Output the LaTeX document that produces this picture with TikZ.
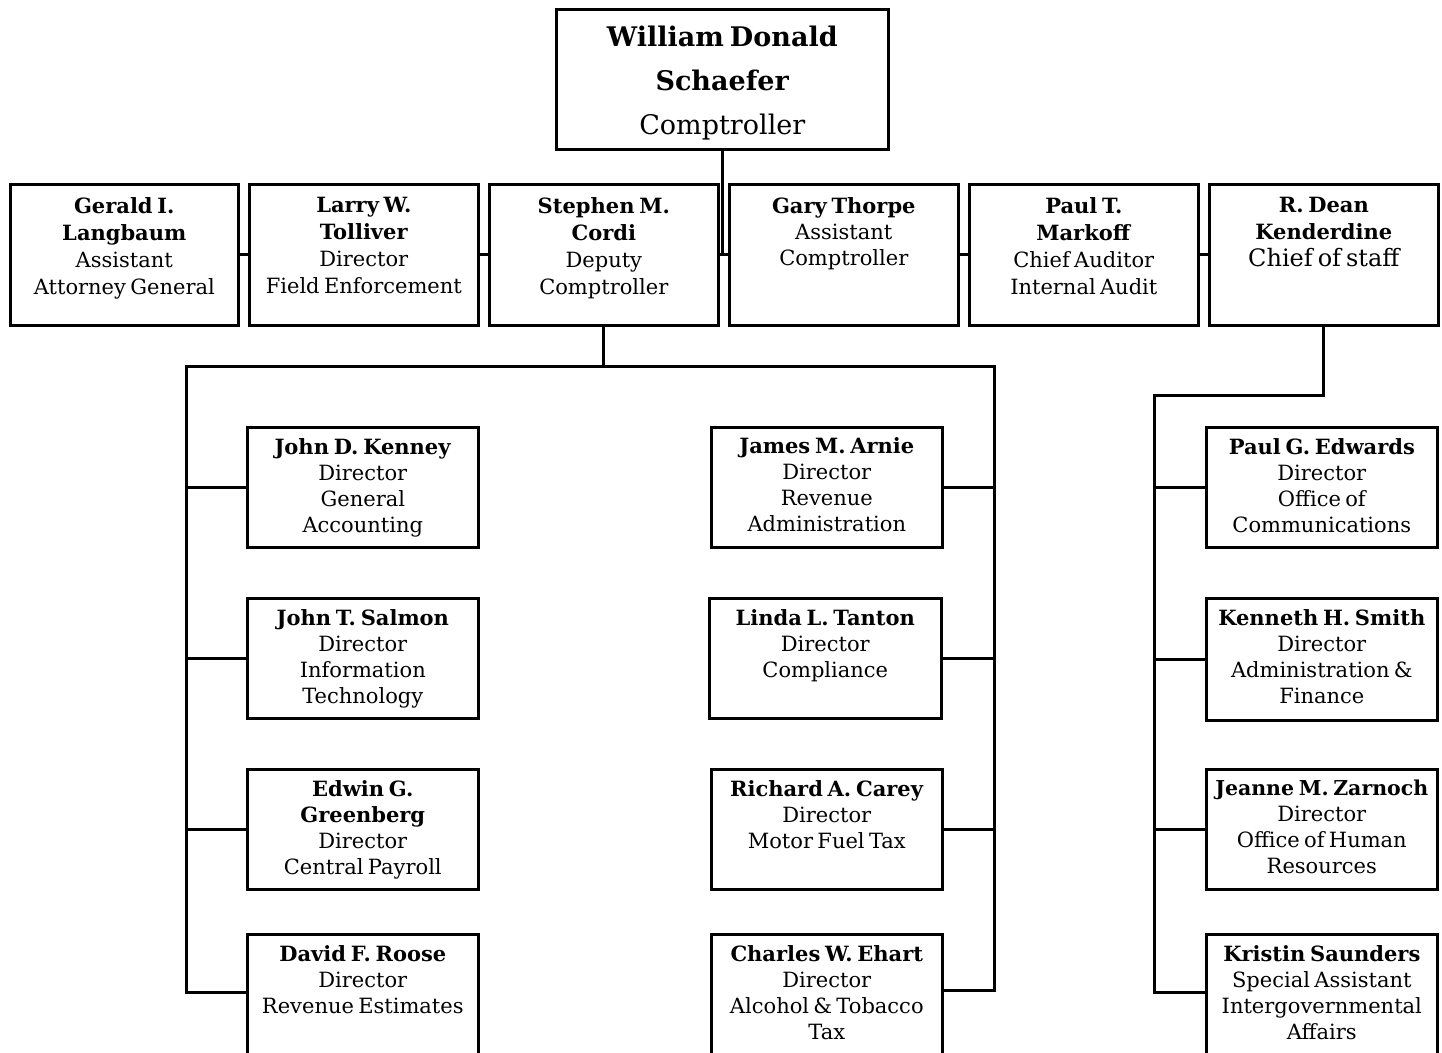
\documentclass[tikz,border=0pt]{standalone}
\usepackage{fontspec}
\setmainfont{DejaVu Serif}[WordSpace=0.65]
\newcommand{\otext}[4]{\parbox[c][#2][t]{#1}{\centering\vspace*{#3}#4\par}}
\tikzset{
  obox/.style={draw, line width=2.6pt, inner sep=0pt, anchor=north west, fill=white,
    font=\fontsize{21}{26}\selectfont},
  conn/.style={line width=3pt, line cap=rect},
}
\begin{document}
\begin{tikzpicture}[x=1pt,y=-1pt]
\useasboundingbox (0,0) rectangle (1442,1052);
\clip (0,0) rectangle (1442,1052);
\fill[white] (0,0) rectangle (1442,1052);

\coordinate (lb) at (186,366);
\coordinate (rb) at (994,366);
\coordinate (kb) at (1154,395);

% top box
\node[obox, font=\fontsize{27}{44}\selectfont] (ceo) at (555,8)
  {\otext{332pt}{140pt}{17pt}{\textbf{William Donald}\\\textbf{Schaefer}\\Comptroller}};

% second row
\node[obox, font=\fontsize{21}{27}\selectfont] (gerald) at (9,183)
  {\otext{228pt}{141pt}{13pt}{\textbf{Gerald I.}\\\textbf{Langbaum}\\Assistant\\Attorney General}};
\node[obox, font=\fontsize{21}{27}\selectfont] (tolliver) at (248,183)
  {\otext{229pt}{141pt}{13pt}{\textbf{Larry W.}\\\textbf{Tolliver}\\Director\\Field Enforcement}};
\node[obox, font=\fontsize{21}{27}\selectfont] (cordi) at (488,183)
  {\otext{229pt}{141pt}{13pt}{\textbf{Stephen M.}\\\textbf{Cordi}\\Deputy\\Comptroller}};
\node[obox, font=\fontsize{21}{26}\selectfont] (thorpe) at (728,183)
  {\otext{229pt}{141pt}{13pt}{\textbf{Gary Thorpe}\\Assistant\\Comptroller}};
\node[obox, font=\fontsize{21}{27}\selectfont] (markoff) at (968,183)
  {\otext{229pt}{141pt}{13pt}{\textbf{Paul T.}\\\textbf{Markoff}\\Chief Auditor\\Internal Audit}};
\node[obox, font=\fontsize{21}{27}\selectfont] (kenderdine) at (1208,183)
  {\otext{229pt}{141pt}{13pt}{\textbf{R. Dean}\\\textbf{Kenderdine}\\{\fontsize{24}{27}\selectfont Chief of staff}}};

% left column
\node[obox] (kenney) at (246,426)
  {\otext{231pt}{120pt}{11pt}{\textbf{John D. Kenney}\\Director\\General\\Accounting}};
\node[obox] (salmon) at (246,597)
  {\otext{231pt}{120pt}{11pt}{\textbf{John T. Salmon}\\Director\\Information\\Technology}};
\node[obox] (greenberg) at (246,768)
  {\otext{231pt}{120pt}{11pt}{\textbf{Edwin G.}\\\textbf{Greenberg}\\Director\\Central Payroll}};
\node[obox] (roose) at (246,933)
  {\otext{231pt}{140pt}{11pt}{\textbf{David F. Roose}\\Director\\Revenue Estimates}};

% middle column
\node[obox] (arnie) at (710,426)
  {\otext{231pt}{120pt}{10pt}{\textbf{James M. Arnie}\\Director\\Revenue\\Administration}};
\node[obox] (tanton) at (708,597)
  {\otext{232pt}{120pt}{11pt}{\textbf{Linda L. Tanton}\\Director\\Compliance}};
\node[obox] (carey) at (710,768)
  {\otext{231pt}{120pt}{11pt}{\textbf{Richard A. Carey}\\Director\\Motor Fuel Tax}};
\node[obox] (ehart) at (710,933)
  {\otext{231pt}{140pt}{11pt}{\textbf{Charles W. Ehart}\\Director\\Alcohol \& Tobacco\\Tax}};

% right column
\node[obox] (edwards) at (1205,426)
  {\otext{231pt}{120pt}{11pt}{\textbf{Paul G. Edwards}\\Director\\Office of\\Communications}};
\node[obox] (smith) at (1205,597)
  {\otext{231pt}{122pt}{11pt}{\textbf{Kenneth H. Smith}\\Director\\Administration \&\\Finance}};
\node[obox] (zarnoch) at (1205,768)
  {\otext{231pt}{120pt}{11pt}{{\fontsize{20.5}{26}\selectfont\textbf{Jeanne M. Zarnoch}}\\Director\\Office of Human\\Resources}};
\node[obox] (saunders) at (1205,933)
  {\otext{231pt}{140pt}{11pt}{\textbf{Kristin Saunders}\\Special Assistant\\Intergovernmental\\Affairs}};

% stub points of the bottom row (boxes run past the page edge)
\coordinate (roosep) at ([yshift=-59pt]roose.north west);
\coordinate (ehartp) at ([yshift=-57pt]ehart.north east);
\coordinate (saundersp) at ([yshift=-59pt]saunders.north west);

% connectors
\draw[conn] (ceo.south) -- (ceo.south |- cordi.east);
\draw[conn] (gerald.east) -- (tolliver.west);
\draw[conn] (tolliver.east) -- (cordi.west);
\draw[conn] (cordi.east) -- (thorpe.west);
\draw[conn] (thorpe.east) -- (markoff.west);
\draw[conn] (markoff.east) -- (kenderdine.west);

\draw[conn] (cordi.south) -- (cordi.south |- lb);
\draw[conn] (lb) -- (rb);
\draw[conn] (lb) -- (lb |- roosep);
\draw[conn] (rb) -- (rb |- ehartp);

\draw[conn] (lb |- kenney.west) -- (kenney.west);
\draw[conn] (lb |- salmon.west) -- (salmon.west);
\draw[conn] (lb |- greenberg.west) -- (greenberg.west);
\draw[conn] (lb |- roosep) -- (roosep);

\draw[conn] (arnie.east) -- (rb |- arnie.east);
\draw[conn] (tanton.east) -- (rb |- tanton.east);
\draw[conn] (carey.east) -- (rb |- carey.east);
\draw[conn] (ehartp) -- (rb |- ehartp);

\draw[conn] (kenderdine.south) -- (kenderdine.south |- kb) -- (kb);
\draw[conn] (kb) -- (kb |- saundersp);
\draw[conn] (kb |- edwards.west) -- (edwards.west);
\draw[conn] (kb |- smith.west) -- (smith.west);
\draw[conn] (kb |- zarnoch.west) -- (zarnoch.west);
\draw[conn] (kb |- saundersp) -- (saundersp);
\end{tikzpicture}
\end{document}
